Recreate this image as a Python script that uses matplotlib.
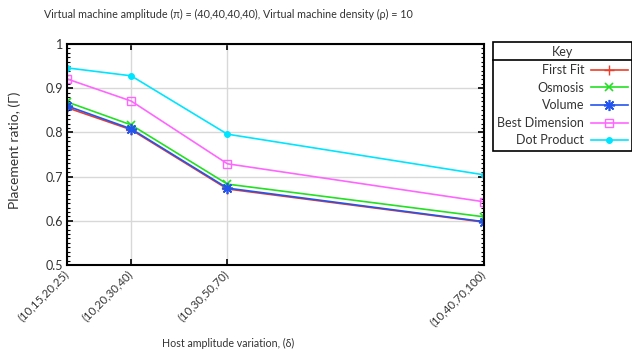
import numpy as np
import matplotlib
matplotlib.use('Agg')
import matplotlib.pyplot as plt
import matplotlib.transforms as mtrans
from matplotlib.ticker import MultipleLocator, FormatStrFormatter
from matplotlib.lines import Line2D

# data
host_variation = [1.0, 2.0, 3.5, 7.5]
tick_labels = ['(10,15,20,25)', '(10,20,30,40)', '(10,30,50,70)', '(10,40,70,100)']
first_fit = [0.856, 0.806, 0.672, 0.597]
osmosis = [0.869, 0.817, 0.683, 0.609]
volume = [0.860, 0.808, 0.674, 0.598]
best_dimension = [0.921, 0.871, 0.729, 0.643]
dot_product = [0.946, 0.928, 0.796, 0.704]

plt.rcParams['font.family'] = ['Lato', 'DejaVu Sans']
plt.rcParams['font.size'] = 8
txt = '#333333'

fig = plt.figure(figsize=(6.32, 3.5), dpi=100)
ax = fig.add_axes([67/632, 1-265/350, (484-67)/632, (265-44)/350])

ax.plot(host_variation, first_fit, color='#f03c28', marker='+', ms=7, mew=1, lw=1.2, label='First Fit')
ax.plot(host_variation, osmosis, color='#22e022', marker='x', ms=6, mew=1.2, lw=1.2, label='Osmosis')
ax.plot(host_variation, volume, color='#2255ee', marker=(8, 2, 0), ms=8, mew=1.2, lw=1.2, label='Volume')
ax.plot(host_variation, best_dimension, color='#ff66ff', marker='s', ms=6, mfc='none', mew=1, lw=1.2, label='Best Dimension')
ax.plot(host_variation, dot_product, color='#00e5ff', marker='o', ms=4, lw=1.2, label='Dot Product')

ax.set_xlim(host_variation[0], host_variation[-1])
ax.set_ylim(0.5, 1.0)
ax.set_xticks(host_variation)
ax.set_xticklabels(tick_labels, rotation=45, ha='right', va='center', rotation_mode='anchor', fontsize=8.2)
shift = mtrans.ScaledTranslation(-6/100, -1/100, fig.dpi_scale_trans)
for lab in ax.get_xticklabels():
    lab.set_transform(lab.get_transform() + shift)
ax.yaxis.set_major_locator(MultipleLocator(0.1))
ax.yaxis.set_minor_locator(MultipleLocator(0.01))
ax.yaxis.set_major_formatter(FormatStrFormatter('%g'))
ax.tick_params(which='both', direction='in', top=True, right=True, colors='black', labelcolor=txt)
ax.tick_params(which='major', length=4, width=1.2)
ax.tick_params(which='minor', length=2, width=0.8)
ax.tick_params(axis='y', labelsize=9, pad=3)
ax.tick_params(axis='x', pad=5)
ax.grid(True, color='#d8d8d8', lw=1)
ax.set_axisbelow(True)
for s in ax.spines.values():
    s.set_linewidth(1.5)

ax.set_xlabel('Host amplitude variation, (δ)', color=txt, fontsize=7.7, va='center')
ax.xaxis.set_label_coords((228-67)/417, (265-343)/221)
ax.set_ylabel('Placement ratio, (Γ)', color=txt, fontsize=10, va='center')
ax.yaxis.set_label_coords((15-67)/417, (265-150)/221)
fig.text(228/632, 1-14/350, 'Virtual machine amplitude (π) = (40,40,40,40), Virtual machine density (ρ) = 10',
         ha='center', va='center', color=txt, fontsize=7.75)

leg = ax.legend(loc='upper left', bbox_to_anchor=(493/632, 1-42/350), bbox_transform=fig.transFigure,
                markerfirst=False, title='Key', frameon=True, fancybox=False, edgecolor='black',
                borderaxespad=0, handlelength=3.0, handletextpad=0.5, labelspacing=0.45,
                borderpad=0.35, framealpha=1, fontsize=9, title_fontsize=9)
leg.get_frame().set_linewidth(1.2)
for t in leg.get_texts():
    t.set_color(txt)
leg.get_title().set_color(txt)

fig.canvas.draw()
r = fig.canvas.get_renderer()
fb = leg.get_frame().get_window_extent(r)
tb = leg.get_title().get_window_extent(r)
ysep = tb.y0 - 2
fig.add_artist(Line2D([fb.x0, fb.x1], [ysep, ysep], transform=None, color='black', lw=1.2))

fig.savefig('out.png', dpi=100)
